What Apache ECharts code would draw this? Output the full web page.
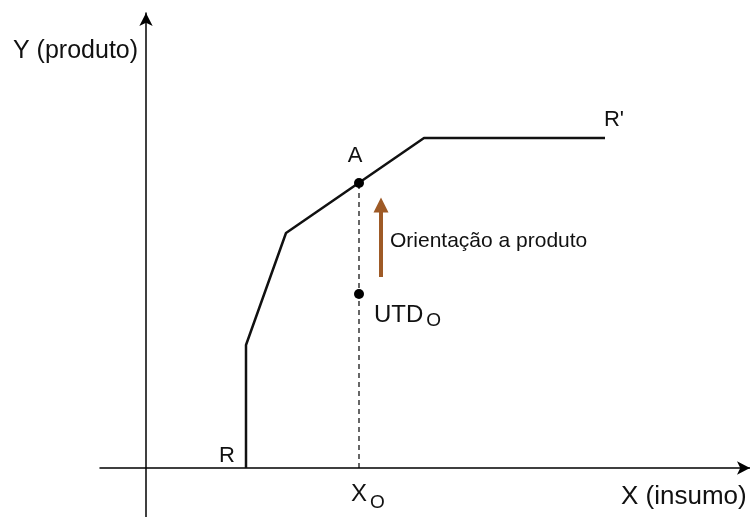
<!DOCTYPE html>
<html>
<head>
<meta charset="utf-8">
<script src="https://cdn.jsdelivr.net/npm/echarts@6/dist/echarts.min.js"></script>
<style>
  html, body { margin: 0; padding: 0; background: #fff; }
  #chart { width: 750px; height: 517px; }
</style>
</head>
<body>
<div id="chart"></div>
<script>
// fronteira R -> R' (x = insumo, y = produto)
const frontierX = [100, 100, 140, 278, 459]
const frontierY = [0, 123, 235, 330, 330]

// pontos
const pointA = [213, 285]
const pointUTD = [213, 174]

// seta de orientação a produto
const arrowFrom = [235, 191]
const arrowTo = [235, 263]

// textos
const labelA = 'A'
const labelUTD = 'UTD{s|O}'
const labelR = 'R'
const labelR2 = "R'"
const labelX0 = 'X{t|O}'
const labelArrow = 'Orientação a produto'
const yTitle = 'Y (produto)'
const xTitle = 'X (insumo)'

const font = '"Liberation Sans", Arial, sans-serif'
const ink = '#111'
const brown = '#9e5a26'

const frontier = frontierX.map((x, i) => [x, frontierY[i]])
const last = frontier[frontier.length - 1]

const rich = {
  s: { fontSize: 19, fontFamily: font, color: ink, padding: [11, 0, 0, 3] },
  t: { fontSize: 19, fontFamily: font, color: ink, padding: [17, 0, 0, 3] },
}

const textPoint = (value, text, offset, size, align) => ({
  value,
  label: {
    show: true,
    position: 'inside',
    formatter: text,
    offset,
    align: align || 'center',
    fontSize: size,
    fontFamily: font,
    color: ink,
    rich,
  },
})

const chart = echarts.init(document.getElementById('chart'))

chart.setOption({
  animation: false,
  grid: { left: 100, right: 0, top: 13, bottom: 0 },
  xAxis: {
    type: 'value',
    min: -46,
    max: 604,
    axisLine: {
      show: true,
      onZero: true,
      symbol: ['none', 'arrow'],
      symbolSize: [10, 13],
      lineStyle: { color: '#000', width: 1.5 },
    },
    axisTick: { show: false },
    axisLabel: { show: false },
    splitLine: { show: false },
  },
  yAxis: {
    type: 'value',
    min: -49,
    max: 455,
    axisLine: {
      show: true,
      onZero: true,
      symbol: ['none', 'arrow'],
      symbolSize: [10, 13],
      lineStyle: { color: '#000', width: 1.5 },
    },
    axisTick: { show: false },
    axisLabel: { show: false },
    splitLine: { show: false },
  },
  graphic: [
    {
      type: 'text',
      left: 13,
      top: 39,
      style: { text: yTitle, fontSize: 25, fontFamily: font, fill: ink },
    },
    {
      type: 'text',
      left: 621,
      top: 484,
      style: { text: xTitle, fontSize: 26, fontFamily: font, fill: ink },
    },
  ],
  series: [
    {
      name: 'guia',
      type: 'line',
      data: [[pointA[0], 0], pointA],
      symbol: 'none',
      lineStyle: { color: '#000', width: 1.2, type: [5, 4] },
      z: 1,
    },
    {
      name: 'fronteira',
      type: 'line',
      data: frontier,
      symbol: 'none',
      lineStyle: { color: '#111', width: 2.5 },
      z: 2,
    },
    {
      name: 'orientação',
      type: 'lines',
      coordinateSystem: 'cartesian2d',
      symbol: ['none', 'triangle'],
      symbolSize: [13, 15],
      lineStyle: { color: brown, width: 4, opacity: 1 },
      data: [{ coords: [arrowFrom, arrowTo] }],
      z: 3,
    },
    {
      name: 'pontos',
      type: 'scatter',
      data: [pointA, pointUTD],
      symbolSize: 10,
      itemStyle: { color: '#000', opacity: 1 },
      z: 4,
    },
    {
      name: 'rótulos',
      type: 'scatter',
      symbolSize: 1,
      itemStyle: { color: 'rgba(0,0,0,0)', opacity: 1 },
      silent: true,
      z: 5,
      data: [
        textPoint(pointA, labelA, [-4, -27], 22),
        textPoint(pointUTD, labelUTD, [15, 21], 24, 'left'),
        textPoint(frontier[0], labelR, [-19, -12], 22),
        textPoint(last, labelR2, [9, -18], 22),
        textPoint([pointA[0], 0], labelX0, [-8, 26], 24, 'left'),
        textPoint([arrowFrom[0], (arrowFrom[1] + 271) / 2], labelArrow, [9, 4], 21, 'left'),
      ],
    },
  ],
})
</script>
</body>
</html>
